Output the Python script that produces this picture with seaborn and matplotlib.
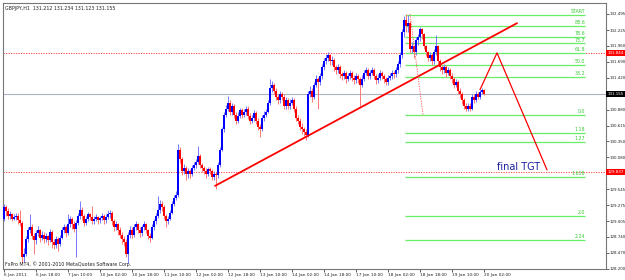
import matplotlib
matplotlib.use('Agg')
import matplotlib.pyplot as plt
import seaborn as sns
import pandas as pd
import numpy as np

# GBPJPY H1 bars (open = previous close)
first_open = 129.05
closes = [
    129.25, 129.18, 129.10, 129.12, 129.05, 129.08, 129.10, 129.02, 128.98, 128.40,
    128.45, 128.70, 128.85, 128.90, 128.75, 128.68, 128.80, 128.85, 128.72, 128.78,
    128.70, 128.75, 128.68, 128.82, 128.65, 128.60, 128.70, 128.62, 128.72, 128.85,
    128.90, 128.80, 128.95, 129.05, 128.95, 128.88, 128.98, 129.10, 129.20, 129.10,
    128.98, 129.05, 129.12, 129.08, 129.00, 129.04, 129.08, 129.02, 129.06, 129.10,
    129.02, 129.08, 129.12, 129.15, 129.00, 128.90, 128.95, 128.85, 128.78, 128.70,
    128.65, 128.45, 128.78, 128.85, 128.78, 128.90, 128.95, 128.85, 128.80, 128.90,
    128.95, 128.85, 128.75, 128.72, 128.90, 129.00, 129.10, 129.20, 129.30, 129.25,
    129.10, 129.00, 129.05, 129.15, 129.30, 129.40, 129.45, 130.20, 130.05, 129.85,
    129.90, 129.80, 129.85, 129.80, 129.90, 129.95, 130.00, 130.10, 129.95, 129.90,
    129.85, 129.80, 129.88, 129.85, 129.75, 129.80, 129.78, 129.95, 130.20, 130.55,
    130.80, 130.90, 131.00, 130.85, 130.95, 130.80, 130.70, 130.78, 130.88, 130.80,
    130.85, 130.90, 130.78, 130.70, 130.75, 130.82, 130.70, 130.60, 130.55, 130.75,
    130.80, 130.85, 131.00, 131.25, 131.30, 131.20, 131.10, 131.05, 131.15, 131.10,
    130.95, 131.05, 130.95, 131.00, 131.05, 130.90, 130.75, 130.70, 130.60, 130.55,
    130.50, 130.45, 131.15, 131.20, 131.10, 131.30, 131.40, 131.35, 131.45, 131.60,
    131.70, 131.75, 131.80, 131.70, 131.72, 131.60, 131.55, 131.60, 131.48, 131.45,
    131.50, 131.40, 131.45, 131.50, 131.42, 131.38, 131.45, 131.40, 131.30, 131.40,
    131.50, 131.55, 131.45, 131.50, 131.55, 131.45, 131.38, 131.42, 131.50, 131.45,
    131.40, 131.35, 131.42, 131.45, 131.50, 131.48, 131.55, 131.65, 131.80, 132.20,
    132.40, 132.30, 132.35, 131.90, 131.95, 131.85, 132.05, 132.10, 132.25, 132.15,
    131.95, 131.85, 131.75, 131.80, 131.70, 131.85, 131.95, 131.70, 131.60, 131.55,
    131.60, 131.50, 131.55, 131.45, 131.40, 131.30, 131.35, 131.20, 131.15, 131.05,
    130.95, 130.90, 130.95, 130.90, 131.10, 131.05, 131.15, 131.10, 131.18, 131.212,
    131.155,
]
highs = [
    129.30, 129.28, 129.22, 129.18, 129.15, 129.12, 129.15, 129.14, 129.20, 129.00,
    128.55, 128.75, 128.90, 129.12, 128.95, 128.80, 128.85, 128.92, 128.88, 128.84,
    128.82, 128.80, 128.78, 128.88, 128.85, 128.70, 128.76, 128.74, 128.78, 128.90,
    128.95, 128.94, 129.12, 129.10, 129.08, 129.00, 129.02, 129.15, 129.35, 129.24,
    129.12, 129.10, 129.16, 129.14, 129.26, 129.10, 129.12, 129.10, 129.10, 129.14,
    129.12, 129.12, 129.20, 129.19, 129.18, 129.04, 129.00, 128.98, 128.90, 128.82,
    128.76, 128.70, 128.82, 128.92, 128.90, 128.96, 129.00, 128.98, 128.90, 128.94,
    129.00, 128.98, 128.88, 128.80, 128.95, 129.05, 129.15, 129.43, 129.36, 129.34,
    129.28, 129.12, 129.10, 129.20, 129.34, 129.45, 129.52, 130.30, 130.25, 130.08,
    129.96, 129.94, 129.90, 129.88, 129.95, 130.00, 130.05, 130.28, 130.14, 129.98,
    129.94, 129.90, 129.92, 129.92, 129.88, 129.85, 129.84, 130.00, 130.25, 130.60,
    130.85, 130.96, 131.11, 131.04, 131.00, 130.98, 130.84, 130.84, 130.92, 130.92,
    130.90, 130.95, 130.94, 130.82, 130.80, 130.88, 130.86, 130.74, 130.64, 130.80,
    130.86, 130.90, 131.05, 131.40, 131.36, 131.34, 131.24, 131.14, 131.20, 131.18,
    131.14, 131.10, 131.08, 131.06, 131.10, 131.08, 130.94, 130.80, 130.74, 130.66,
    130.60, 130.56, 131.20, 131.28, 131.24, 131.35, 131.46, 131.44, 131.50, 131.65,
    131.76, 131.82, 131.85, 131.82, 131.78, 131.75, 131.64, 131.66, 131.64, 131.52,
    131.56, 131.54, 131.50, 131.56, 131.54, 131.46, 131.50, 131.48, 131.44, 131.46,
    131.55, 131.60, 131.58, 131.56, 131.60, 131.58, 131.48, 131.48, 131.55, 131.54,
    131.48, 131.44, 131.46, 131.50, 131.55, 131.54, 131.60, 131.70, 131.85, 132.25,
    132.46, 132.50, 132.48, 132.38, 132.02, 131.98, 132.10, 132.16, 132.28, 132.26,
    132.18, 131.98, 131.88, 131.86, 131.84, 131.90, 132.14, 131.98, 131.74, 131.64,
    131.66, 131.64, 131.60, 131.58, 131.50, 131.44, 131.40, 131.38, 131.24, 131.18,
    131.08, 131.00, 131.00, 131.00, 131.15, 131.14, 131.20, 131.18, 131.22, 131.25,
    131.234,
]
lows = [
    129.00, 129.10, 129.05, 129.04, 129.00, 129.02, 129.03, 128.96, 128.92, 128.30,
    128.32, 128.42, 128.65, 128.80, 128.70, 128.45, 128.62, 128.75, 128.66, 128.68,
    128.64, 128.66, 128.60, 128.65, 128.55, 128.54, 128.56, 128.50, 128.58, 128.70,
    128.80, 128.74, 128.78, 128.90, 128.88, 128.82, 128.40, 128.94, 129.05, 129.02,
    128.92, 128.94, 129.00, 129.02, 128.95, 128.96, 129.00, 128.96, 128.98, 129.02,
    128.96, 128.98, 129.04, 129.06, 128.94, 128.84, 128.86, 128.78, 128.72, 128.62,
    128.58, 128.40, 128.30, 128.72, 128.72, 128.74, 128.86, 128.80, 128.74, 128.76,
    128.86, 128.80, 128.70, 128.66, 128.70, 128.86, 128.96, 129.06, 129.15, 129.18,
    129.04, 128.90, 128.96, 129.02, 129.12, 129.26, 129.36, 129.42, 129.98, 129.78,
    129.80, 129.70, 129.74, 129.74, 129.76, 129.86, 129.90, 129.96, 129.90, 129.84,
    129.80, 129.74, 129.76, 129.80, 129.70, 129.70, 129.54, 129.74, 129.92, 130.18,
    130.50, 130.76, 130.86, 130.80, 130.80, 130.74, 130.64, 130.66, 130.74, 130.74,
    130.76, 130.80, 130.72, 130.64, 130.66, 130.70, 130.64, 130.54, 130.42, 130.52,
    130.70, 130.76, 130.82, 130.96, 131.18, 131.14, 131.04, 130.98, 131.00, 131.04,
    130.90, 130.90, 130.90, 130.90, 130.96, 130.84, 130.70, 130.64, 130.54, 130.48,
    130.44, 130.37, 130.42, 131.10, 131.02, 131.06, 131.26, 130.89, 131.30, 131.40,
    131.56, 131.66, 131.70, 131.64, 131.64, 131.54, 131.48, 131.50, 131.42, 131.38,
    131.40, 131.34, 131.36, 131.40, 131.36, 131.32, 131.34, 131.34, 130.94, 131.26,
    131.36, 131.46, 131.40, 131.40, 131.46, 131.40, 131.32, 131.34, 131.38, 131.40,
    131.34, 131.30, 131.30, 131.38, 131.40, 131.42, 131.44, 131.50, 131.60, 131.76,
    132.10, 132.20, 132.20, 131.84, 131.84, 131.76, 131.80, 131.98, 132.04, 132.08,
    131.90, 131.78, 131.70, 131.70, 131.64, 131.66, 131.80, 131.64, 131.54, 131.48,
    131.50, 131.44, 131.46, 131.40, 131.34, 131.24, 131.26, 131.14, 131.08, 130.98,
    130.90, 130.86, 130.86, 130.86, 130.88, 131.00, 131.02, 131.06, 131.06, 131.14,
    131.123,
]

x_tick_pos = [0, 16, 32, 48, 64, 80, 96, 112, 128, 144, 160, 176, 192, 208, 224, 240]
x_labels = ['6 Jan 2011', '6 Jan 18:00', '7 Jan 10:00', '10 Jan 02:00', '10 Jan 18:00',
            '11 Jan 10:00', '12 Jan 02:00', '12 Jan 18:00', '13 Jan 10:00', '14 Jan 02:00',
            '14 Jan 18:00', '17 Jan 10:00', '18 Jan 02:00', '18 Jan 18:00', '19 Jan 10:00',
            '20 Jan 02:00']
y_ticks = [132.495, 132.225, 131.960, 131.690, 131.420, 130.880, 130.615, 130.350,
           130.080, 129.545, 129.275, 129.005, 128.740, 128.470, 128.200]

fib_names = ['START', '88.6', '78.6', '73.7', '61.8', '50.0', '38.2',
             '0.0', '1.18', '1.27', '1.618', '2.0', '2.24']
fib_prices = [132.484, 132.294, 132.112, 131.999, 131.844, 131.637, 131.435,
              130.796, 130.494, 130.342, 129.749, 129.097, 128.693]
fib_from, fib_to = 200.5, 290.5

trend_x = [105.5, 256.5]
trend_y = [129.60, 132.34]
zigzag_x = [238.0, 246.5, 271.5]
zigzag_y = [131.22, 131.84, 129.87]
fib_link_x = [203.0, 209.5]
fib_link_y = [132.495, 130.796]
red_levels = [131.844, 129.837]
red_labels = ['131.844', '129.837']
bid = 131.155

sns.set_style('white')
plt.rcParams['font.family'] = ['DejaVu Sans']

df = pd.DataFrame({'close': closes, 'high': highs, 'low': lows})
df['open'] = [first_open] + closes[:-1]
df['i'] = range(len(df))
up = (df['close'] >= df['open']).to_numpy()

fig = plt.figure(figsize=(6.25, 2.8), dpi=100)
ax = fig.add_axes([3 / 625, 11 / 280, 603 / 625, 266 / 280])

# price levels behind the bars
ax.axhline(bid, color='#aab2c4', lw=0.8, zorder=0)
for lv in red_levels:
    ax.axhline(lv, color='#ff3030', lw=0.6, ls=(0, (1.5, 1.5)), zorder=1)
ax.hlines(fib_prices, fib_from, fib_to, color='#66ee66', lw=0.9, zorder=1)
for name, p in zip(fib_names, fib_prices):
    ax.text(fib_to, p + 0.012, name, ha='right', va='bottom', fontsize=3.4, color='#33cc33')

# bars
ax.vlines(df['i'], df['low'], df['high'], colors=np.where(up, '#7777ff', '#ff7777'), lw=0.7, zorder=2)
body = (df['close'] - df['open']).abs().clip(lower=0.015)
ax.bar(df['i'], body, bottom=df[['open', 'close']].min(axis=1), width=0.8,
       color=np.where(up, '#0000ff', '#ff0000'), linewidth=0, zorder=3)

# drawn objects
sns.lineplot(x=trend_x, y=trend_y, ax=ax, color='#ff0000', lw=1.3, zorder=4)
sns.lineplot(x=zigzag_x, y=zigzag_y, ax=ax, color='#ff0000', lw=0.9, zorder=4, sort=False)
ax.plot(fib_link_x, fib_link_y, color='#ff5050', lw=0.6, ls=(0, (1.5, 1.5)), zorder=4)
ax.text(246.5, 129.92, 'final TGT', color='#1c1c9c', fontsize=7, va='center', ha='left')

ax.set_xlim(-0.5, 301)
ax.set_ylim(128.206, 132.68)

ax.yaxis.tick_right()
ax.set_yticks(y_ticks)
ax.set_yticklabels([f'{v:.3f}' for v in y_ticks], fontsize=2.9)
ax.set_xticks(x_tick_pos)
ax.set_xticklabels(x_labels, fontsize=3.1, ha='left')
ax.tick_params(axis='both', length=2, width=0.5, pad=0.8, colors='#222222')
ax.tick_params(axis='y', right=True, left=False)
ax.tick_params(axis='x', bottom=True)
for s in ax.spines.values():
    s.set_color('#777777')
    s.set_linewidth(0.8)

# price boxes on the right scale
box_kw = dict(xycoords=('axes fraction', 'data'), xytext=(1.0, 0), textcoords='offset points',
              ha='left', va='center', fontsize=2.9, color='white', annotation_clip=False)
for lv, lab in zip(red_levels, red_labels):
    ax.annotate(lab, xy=(1, lv), bbox=dict(boxstyle='square,pad=0.25', fc='#ff0000', ec='none'), **box_kw)
ax.annotate(f'{bid:.3f}', xy=(1, bid), bbox=dict(boxstyle='square,pad=0.25', fc='#000000', ec='none'), **box_kw)

ax.text(0.003, 0.988, 'GBPJPY,H1  131.212 131.234 131.123 131.155', transform=ax.transAxes,
        fontsize=3.4, va='top', ha='left', color='#222222')
ax.text(0.003, 0.008, 'FxPro MT4, \u00a9 2001-2010 MetaQuotes Software Corp.', transform=ax.transAxes,
        fontsize=3.4, va='bottom', ha='left', color='#222222')

fig.savefig('out.png', dpi=100)
